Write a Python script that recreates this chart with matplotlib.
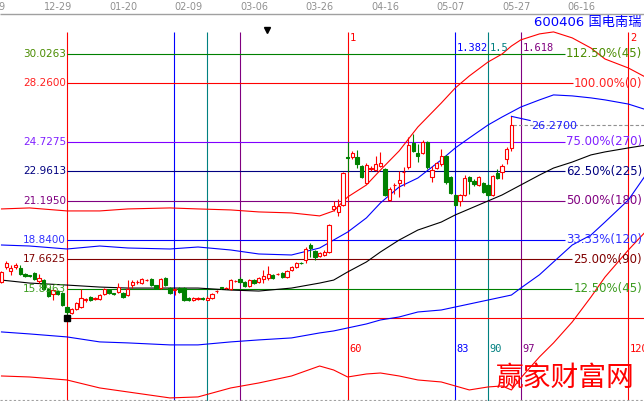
import matplotlib
matplotlib.use('Agg')
import numpy as np
import matplotlib.pyplot as plt

plt.rcParams['font.family'] = ['DejaVu Sans', 'Noto Sans CJK SC']

# ---- candles (bar index 0 = the low the time lines start from) ----
bar_idx = np.arange(-14, 96)
opens = [16.31, 17.21, 16.97, 17.21, 17.15, 16.79, 16.70, 16.85, 16.37, 16.43,
         15.90, 15.60, 15.78, 15.66, 14.82, 14.46, 14.70, 14.82, 15.24, 15.42,
         15.30, 15.30, 15.60, 15.84, 15.62, 15.72, 15.66, 15.54, 16.13, 16.28,
         16.25, 16.40, 16.49, 16.10, 15.96, 16.55, 15.96, 15.82, 15.96, 15.96,
         15.36, 15.24, 15.27, 15.36, 15.24, 15.36, 15.75, 15.98, 15.93, 15.90,
         16.35, 16.49, 16.31, 16.07, 16.43, 16.31, 16.49, 16.55, 16.73, 16.76,
         16.85, 16.61, 17.03, 17.21, 17.47, 17.63, 18.53, 18.17, 17.87, 17.93,
         18.11, 20.70, 20.50, 20.94, 23.80, 23.83, 23.83, 23.28, 22.26, 23.13,
         23.04, 23.28, 23.10, 21.24, 22.12, 22.26, 22.90, 23.22, 24.67, 24.07,
         24.07, 24.73, 22.62, 23.16, 23.40, 23.89, 22.62, 21.54, 21.18, 21.54,
         22.62, 22.38, 22.14, 22.26, 22.14, 21.54, 22.86, 22.92, 23.71, 24.37]
highs = [16.97, 17.55, 17.33, 17.45, 17.33, 16.85, 16.75, 16.91, 16.80, 16.50,
         15.96, 15.90, 15.84, 15.72, 14.88, 14.76, 15.12, 15.90, 15.36, 15.48,
         15.42, 15.60, 15.96, 15.90, 15.66, 16.25, 15.72, 16.40, 16.40, 16.40,
         16.55, 16.49, 16.55, 16.13, 16.55, 16.61, 16.01, 15.96, 16.01, 16.01,
         15.42, 15.42, 15.42, 15.42, 15.45, 15.66, 15.84, 16.01, 16.01, 16.49,
         16.43, 16.61, 16.37, 16.49, 16.49, 16.61, 17.03, 17.27, 16.79, 16.85,
         16.91, 17.03, 17.27, 17.51, 17.51, 18.41, 18.65, 18.23, 18.11, 18.20,
         19.80, 21.20, 21.30, 22.92, 24.70, 24.20, 24.25, 23.34, 23.46, 23.30,
         23.90, 24.10, 23.16, 22.00, 22.26, 23.00, 23.20, 25.00, 25.20, 24.60,
         24.85, 24.80, 23.30, 23.55, 24.30, 23.95, 22.70, 21.60, 21.60, 22.75,
         22.70, 22.50, 22.70, 22.30, 22.20, 22.75, 23.10, 23.40, 24.40, 26.27]
lows = [16.25, 17.10, 16.70, 17.10, 16.70, 16.61, 16.61, 16.43, 16.25, 15.84,
        15.40, 15.24, 15.54, 14.88, 14.13, 14.40, 14.64, 14.76, 15.12, 15.18,
        15.24, 15.24, 15.54, 15.60, 15.54, 15.66, 15.36, 15.48, 15.96, 16.20,
        16.19, 16.37, 16.07, 15.90, 15.90, 16.07, 15.60, 15.50, 15.66, 15.18,
        15.18, 15.18, 15.20, 15.24, 15.20, 15.30, 15.66, 15.90, 15.90, 15.84,
        16.31, 16.25, 16.01, 16.01, 16.19, 16.25, 16.25, 16.43, 16.49, 16.70,
        16.55, 16.55, 16.97, 17.15, 17.40, 17.45, 17.80, 17.63, 17.81, 17.87,
        18.05, 20.60, 20.30, 20.88, 22.90, 23.70, 23.16, 22.56, 22.20, 23.00,
        22.98, 23.20, 21.48, 21.18, 21.60, 21.42, 22.10, 23.10, 24.10, 23.50,
        24.00, 23.10, 22.30, 23.10, 23.30, 22.20, 21.60, 20.88, 20.90, 21.50,
        21.60, 22.10, 22.10, 21.66, 21.48, 21.48, 22.50, 22.50, 23.40, 24.20]
closes = [16.91, 17.45, 17.15, 17.33, 16.79, 16.67, 16.67, 16.49, 16.55, 15.90,
          15.48, 15.84, 15.60, 14.94, 14.52, 14.70, 15.06, 15.36, 15.27, 15.24,
          15.33, 15.54, 15.90, 15.66, 15.60, 16.01, 15.42, 15.90, 16.31, 16.31,
          16.49, 16.43, 16.13, 15.96, 16.49, 16.13, 15.66, 15.86, 15.72, 15.24,
          15.24, 15.36, 15.36, 15.30, 15.36, 15.60, 15.78, 15.96, 15.96, 16.43,
          16.37, 16.31, 16.07, 16.43, 16.25, 16.55, 16.67, 16.79, 16.55, 16.79,
          16.61, 16.97, 17.21, 17.45, 17.45, 18.29, 18.35, 17.81, 18.05, 18.11,
          19.74, 20.88, 20.90, 22.86, 23.77, 24.07, 23.40, 22.62, 23.34, 23.16,
          23.40, 23.46, 21.54, 21.90, 22.14, 22.44, 22.92, 24.55, 24.19, 23.89,
          24.73, 23.22, 23.04, 23.46, 23.89, 22.32, 21.66, 20.94, 21.54, 22.56,
          22.38, 22.20, 22.62, 21.72, 21.54, 22.68, 22.56, 23.28, 24.31, 25.75]

# ---- band lines ----
band_idx = [-14, -8, 0, 7, 13, 22, 28, 35, 41, 48, 54, 57, 60, 64, 67, 71,
            75, 80, 83, 86, 90, 93, 95, 97, 101, 104, 108, 112, 115, 120, 124]
upper_red = [20.70, 20.76, 20.58, 20.58, 20.70, 20.76, 20.70, 20.64, 20.52, 20.46,
             20.28, 20.58, 21.42, 22.14, 23.04, 24.19, 25.63, 27.07, 27.98, 28.70,
             29.54, 30.02, 30.50, 30.87, 31.23, 31.35, 30.99, 30.38, 29.72, 29.18, 28.58]
upper_blue = [18.53, 18.47, 18.29, 18.47, 18.35, 18.29, 18.41, 18.23, 17.99, 17.93,
              18.35, 18.83, 19.31, 20.16, 21.06, 22.02, 22.56, 23.65, 24.37, 24.97,
              25.75, 26.23, 26.53, 26.83, 27.26, 27.56, 27.50, 27.38, 27.26, 27.01, 26.65]
mid_black = [16.42, 16.24, 16.12, 16.00, 15.94, 15.94, 15.94, 15.82, 15.76, 15.94,
             16.24, 16.42, 16.91, 17.51, 18.11, 18.83, 19.43, 19.91, 20.34, 20.70,
             21.18, 21.54, 21.84, 22.14, 22.74, 23.16, 23.52, 23.95, 24.13, 24.37, 24.55]
lower_blue = [13.30, 13.18, 13.00, 12.70, 12.64, 12.52, 12.52, 12.70, 12.82, 12.94,
              13.24, 13.36, 13.54, 13.78, 14.02, 14.20, 14.50, 14.62, 14.80, 14.98,
              15.22, 15.40, 15.52, 15.94, 16.74, 17.51, 18.53, 19.13, 19.91, 21.24, 22.86]
lower_red = [10.65, 10.59, 10.41, 9.93, 9.69, 9.33, 9.39, 9.93, 10.23, 10.65,
             11.25, 11.01, 10.59, 10.77, 10.83, 10.65, 10.41, 10.29, 10.05, 9.81,
             9.99, 10.05, 9.81, 10.53, 11.80, 12.64, 13.90, 15.40, 16.60, 18.23, 19.43]

# ---- gann price levels ----
base_price = 14.13
level_prices = [30.0263, 28.2600, 24.7275, 22.9613, 21.1950, 18.8400, 17.6625, 15.8963]
level_tags = ['112.50%(45)', '100.00%(0)', '75.00%(270)', '62.50%(225)',
              '50.00%(180)', '33.33%(120)', '25.00%(90)', '12.50%(45)']
level_colors = ['#008000', '#ff0000', '#8000ff', '#000080',
                '#800080', '#0000ff', '#800000', '#008000']
level_text_colors = ['#4a8c00', '#ff2020', '#8020ff', '#000080',
                     '#800080', '#3030ff', '#800000', '#3c9c20']

# ---- fibonacci time lines ----
cycle_bars = 60
time_ratios = [0, 0.382, 0.5, 0.618, 1, 1.382, 1.5, 1.618, 2]
time_tags = ['', '', '', '', '1', '1.382', '1.5', '1.618', '2']
time_colors = ['#ff0000', '#0000ff', '#008080', '#800080',
               '#ff0000', '#0000ff', '#008080', '#800080', '#ff0000']

date_labels = ['12-09', '12-29', '01-20', '02-09', '03-06', '03-26',
               '04-16', '05-07', '05-27', '06-16']
date_idx = [-16, -2, 12, 26, 40, 54, 68, 82, 96, 110]

W, H = 644, 401
X0, X1 = -14.32, 123.34
Y0, Y1 = 9.145, 33.27


def px(xp):
    return X0 + xp / W * (X1 - X0)


def py(yp):
    return Y1 - yp / H * (Y1 - Y0)


fig = plt.figure(figsize=(6.44, 4.01), dpi=100)
ax = fig.add_axes([0, 0, 1, 1])
ax.set_xlim(X0, X1)
ax.set_ylim(Y0, Y1)
ax.axis('off')

# time lines
for r, tag, c in zip(time_ratios, time_tags, time_colors):
    xb = round(r * cycle_bars, 2)
    ax.vlines(xb, Y0, py(32), color=c, lw=0.8, zorder=2)
    if tag:
        ty = py(38) if tag in ('1', '2') else py(48)
        ax.text(xb + 0.35, ty, tag, color=c, fontsize=7.5, family='DejaVu Sans Mono',
                ha='left', va='center', zorder=6)
        ax.text(xb + 0.35, py(349), str(int(round(r * cycle_bars))), color=c,
                fontsize=7.5, family='DejaVu Sans Mono', ha='left', va='center', zorder=6)

# price levels
ax.hlines(base_price, 0, X1, color='#ff0000', lw=0.8, zorder=2)
fig.canvas.draw()
inv = ax.transData.inverted()
for p, tag, lc, tc in zip(level_prices, level_tags, level_colors, level_text_colors):
    ax.text(px(66), p, f'{p:.4f}', color=tc, fontsize=7.5, ha='right', va='center', zorder=6)
    t = ax.text(px(642), p, tag, color=tc, fontsize=8.5, ha='right', va='center', zorder=6)
    bb = t.get_window_extent(renderer=fig.canvas.get_renderer())
    x_end = inv.transform((bb.x0, 0))[0]
    ax.hlines(p, 0, x_end - 0.2, color=lc, lw=0.8, zorder=2)

# bands
ax.plot(band_idx, upper_red, color='#ff0000', lw=0.8, zorder=3)
ax.plot(band_idx, lower_red, color='#ff0000', lw=0.8, zorder=3)
ax.plot(band_idx, upper_blue, color='#0000ff', lw=0.8, zorder=3)
ax.plot(band_idx, lower_blue, color='#0000ff', lw=0.8, zorder=3)
ax.plot(band_idx, mid_black, color='black', lw=0.8, zorder=3)

# candles
o = np.array(opens)
h = np.array(highs)
l = np.array(lows)
c = np.array(closes)
up = c >= o
col = np.where(up, '#ff0000', '#008000')
ax.vlines(bar_idx, l, h, colors=col, lw=0.8, zorder=4)
bw = 0.7
ax.bar(bar_idx[up], (c - o)[up], bottom=o[up], width=bw, facecolor='white',
       edgecolor='#ff0000', lw=0.8, zorder=5)
ax.bar(bar_idx[~up], (o - c)[~up], bottom=c[~up], width=bw, facecolor='#008000',
       edgecolor='#008000', lw=0.8, zorder=5)

# low marker
k = int(np.argmin(l))
ax.plot(bar_idx[k], l[k], marker='s', ms=4, color='black', zorder=7)

# last bar high / close marks
ax.plot([bar_idx[-1], bar_idx[-1] + 4], [h[-1], h[-1] - 0.25], color='#0000ff', lw=0.8, zorder=6)
ax.text(bar_idx[-1] + 4.3, h[-1] - 0.6, f'{h[-1]:.4f}', color='#2020ff', fontsize=8,
        ha='left', va='center', zorder=6)
ax.hlines(c[-1], bar_idx[-1] + 0.4, X1, color='#909090', lw=0.8, linestyles=(0, (3, 2)), zorder=2)

# date strip on top
ax.fill_between([X0, X1], py(14), Y1, color='white', zorder=8)
ax.hlines(py(14), X0, X1, color='#a0a0a0', lw=1, zorder=9)
for d, xi in zip(date_labels, date_idx):
    ax.text(xi, py(7), d, color='#909090', fontsize=7, ha='center', va='center', zorder=9)

ax.hlines(py(399.5), X0, X1, color='#a0a0a0', lw=0.8, linestyles=(0, (2, 2)), zorder=9)

ax.text(px(642), py(22), '600406 国电南瑞', color='#0000ff', fontsize=9.5,
        ha='right', va='center', zorder=9)
ax.plot(px(267), py(30), marker='v', ms=4, color='black', zorder=9)
ax.text(px(565), py(378), '赢家财富网', color='#ff0000', fontsize=20,
        family=['Noto Sans CJK SC'], ha='center', va='center', zorder=9)

fig.savefig('out.png', dpi=100)
